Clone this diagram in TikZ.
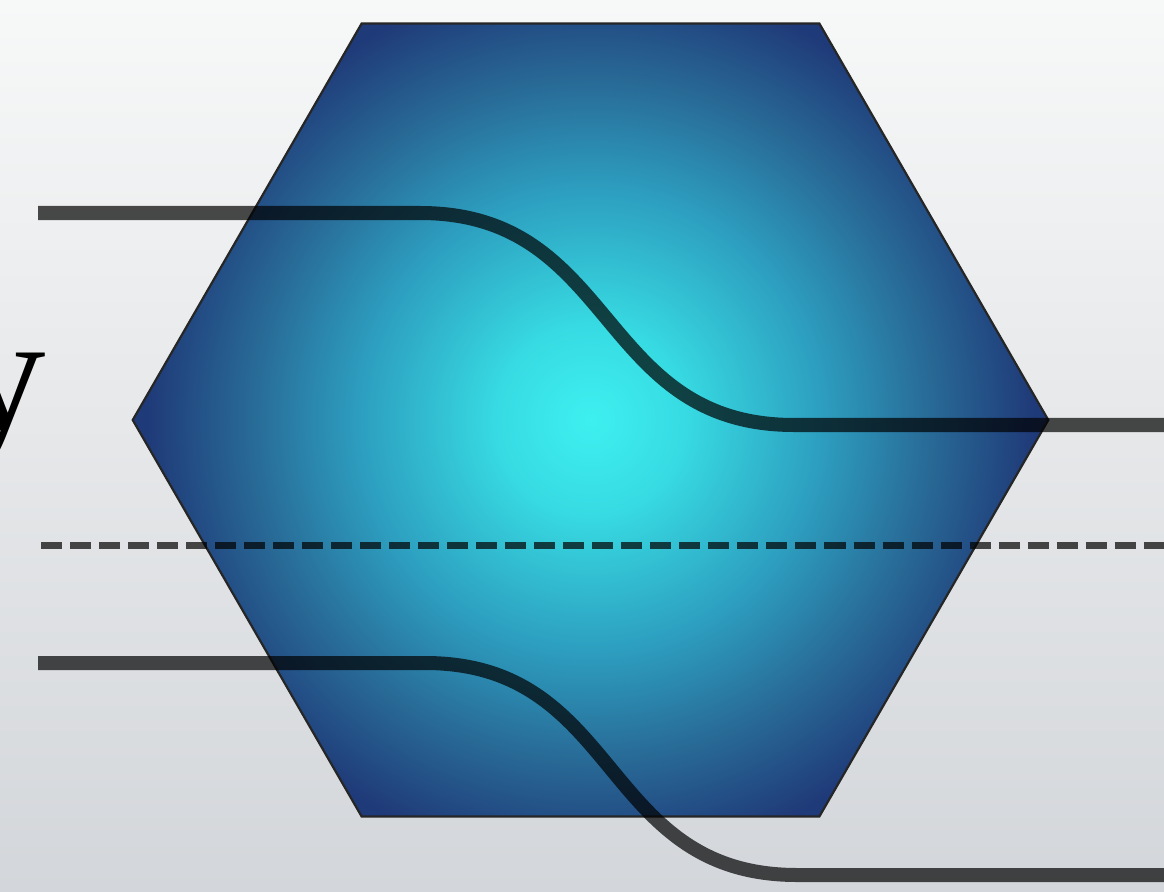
\documentclass[tikz,border=0pt]{standalone}
\usepackage{fontspec}
\usetikzlibrary{shapes.geometric}

% serif face for the side label
\newfontfamily\labelserif{Liberation Serif}

% radial glow used inside the hexagonal cell (25bp is the fitted radius)
\pgfdeclareradialshading{hexglow}{\pgfpoint{0bp}{0bp}}{%
  rgb(0bp)=(0.243,0.941,0.941);
  rgb(5bp)=(0.216,0.860,0.890);
  rgb(12.5bp)=(0.176,0.620,0.750);
  rgb(18.5bp)=(0.157,0.412,0.588);
  rgb(24bp)=(0.122,0.227,0.471);
  rgb(50bp)=(0.122,0.227,0.471)}

\definecolor{bgtop}{HTML}{F7F8F8}
\definecolor{bgbottom}{HTML}{D3D6DA}

\tikzset{
  hexcell/.style={regular polygon, regular polygon sides=6, minimum size=9.15cm,
    inner sep=0pt, draw=black!85, line width=0.022cm,
    path picture={\shade[shading=hexglow] (path picture bounding box.center) circle (4.62cm);}},
  wire/.style={draw=black, draw opacity=0.7, line width=0.14cm, line cap=butt},
  guide/.style={draw=black, draw opacity=0.7, line width=0.07cm,
    dash pattern=on 0.21cm off 0.08cm},
  glyph/.style={inner sep=0pt, text=black, font=\labelserif\fontsize{48pt}{52pt}\selectfont}
}

\begin{document}
\begin{tikzpicture}[x=0.01cm, y=-0.01cm]
  % canvas and backdrop
  \useasboundingbox (0,0) rectangle (1164,891);
  \clip (0,0) rectangle (1164,891);
  \shade[top color=bgtop, bottom color=bgbottom] (0,0) rectangle (1164,891);

  % the hexagonal cell
  \node[hexcell] (hex) at (590.5,420) {};

  % upper wire
  \coordinate (a0) at (38,213);
  \coordinate (a1) at (420,213);
  \coordinate (a2) at (794,425);
  \coordinate (a3) at (1175,425);
  \draw[wire] (a0) -- (a1) .. controls +(197,0) and +(-197,0) .. (a2) -- (a3);

  % dashed reference line
  \coordinate (d0) at (41,545);
  \coordinate (d1) at (1175,545);
  \draw[guide] (d0) -- (d1);

  % lower wire
  \coordinate (b0) at (38,663);
  \coordinate (b1) at (425,663);
  \coordinate (b2) at (797,875);
  \coordinate (b3) at (1175,875);
  \draw[wire] (b0) -- (b1) .. controls +(197,0) and +(-197,0) .. (b2) -- (b3);

  % label at the left edge
  \node[glyph, anchor=base east] (lbl) at (47,430) {y};
\end{tikzpicture}
\end{document}
